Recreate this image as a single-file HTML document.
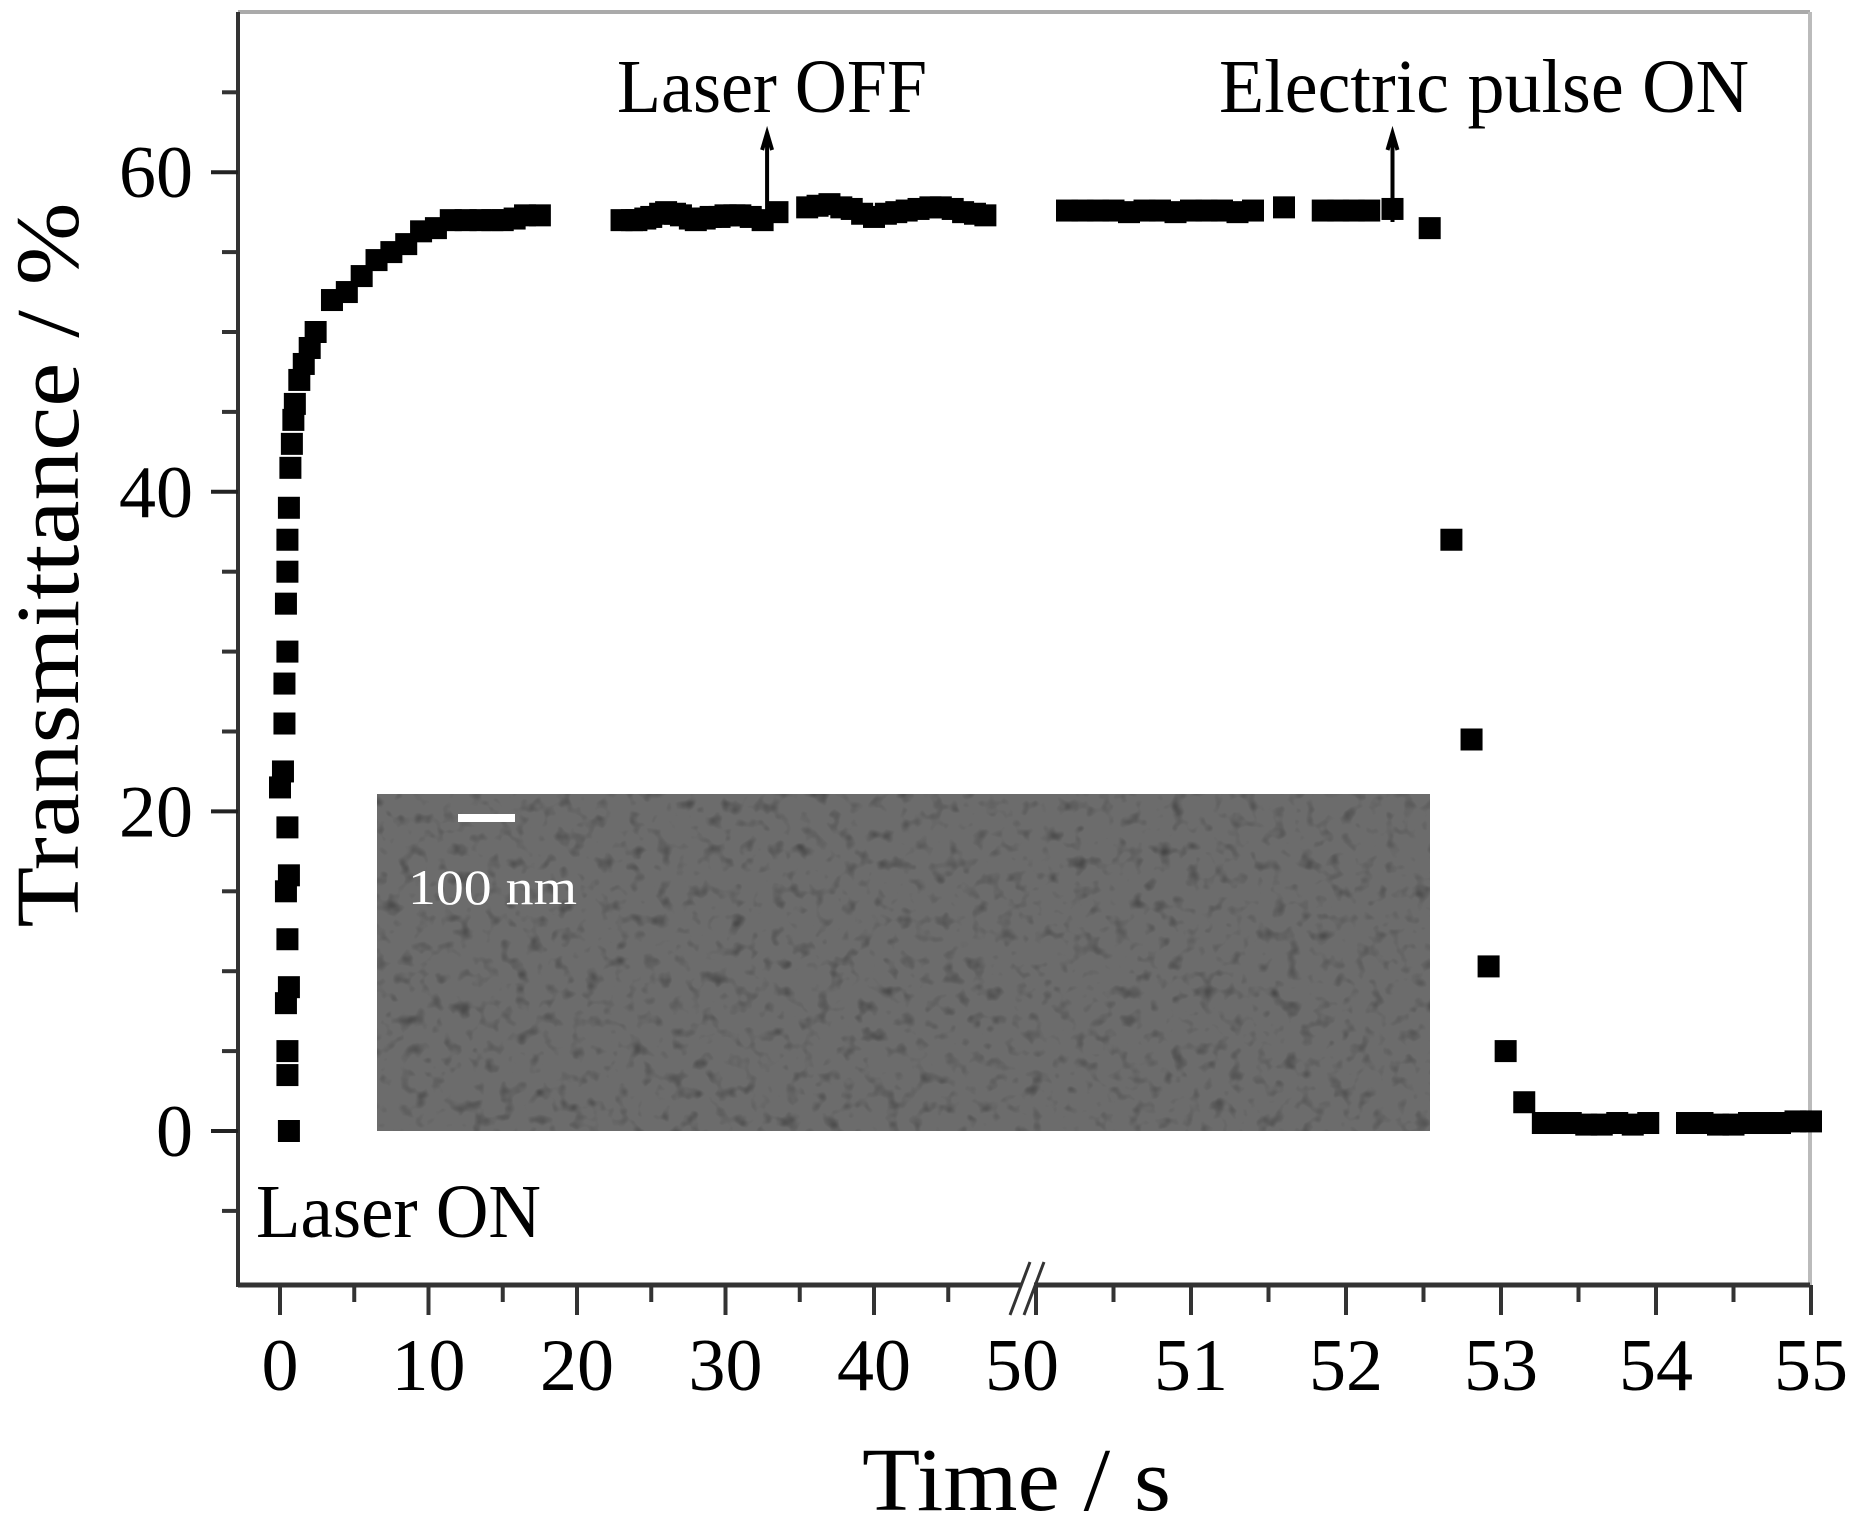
<!DOCTYPE html>
<html><head><meta charset="utf-8"><style>
html,body{margin:0;padding:0;background:#fff;}
svg{display:block;font-family:"Liberation Serif",serif;}
</style></head><body>
<svg id="chart" width="1855" height="1524" viewBox="0 0 1855 1524" xmlns="http://www.w3.org/2000/svg">
<defs>
<filter id="sem" x="0" y="0" width="100%" height="100%">
<feTurbulence type="fractalNoise" baseFrequency="0.07" numOctaves="2" seed="4"/>
<feColorMatrix type="matrix" values="0 0 0 0 0.3  0 0 0 0 0.3  0 0 0 0 0.3  1.1 1.1 1.1 0 -0.6"/>
</filter>
</defs>
<g>
<rect x="377" y="794" width="1053" height="337" fill="#444"/>
<rect x="377" y="794" width="1053" height="337" fill="#fff" filter="url(#sem)" opacity="0.5"/>
<rect x="458" y="814" width="57" height="8" fill="#fff"/>
<text x="408" y="904" font-size="50" fill="#fff" textLength="169" lengthAdjust="spacingAndGlyphs">100 nm</text>
</g>
<g id="axes"></g>
<g id="marks"></g>
<text x="617" y="112" font-size="76" textLength="310" lengthAdjust="spacingAndGlyphs">Laser OFF</text>
<text x="1219" y="112" font-size="76" textLength="530" lengthAdjust="spacingAndGlyphs">Electric pulse ON</text>
<text x="256" y="1237" font-size="76" textLength="285" lengthAdjust="spacingAndGlyphs">Laser ON</text>
<text transform="translate(78,565) rotate(-90)" text-anchor="middle" font-size="90" textLength="725" lengthAdjust="spacingAndGlyphs">Transmittance / %</text>
<text x="862" y="1510" font-size="90" textLength="309" lengthAdjust="spacingAndGlyphs">Time / s</text>
</svg>
<script>
const times = [0.6,0.5,0.5,0.4,0.6,0.5,0.4,0.6,0.5,0.0,0.2,0.3,0.3,0.5,0.4,0.5,0.5,0.6,0.7,0.8,0.9,1.0,1.3,1.6,2.0,2.4,3.5,4.5,5.5,6.5,7.5,8.5,9.5,10.5,11.5,12.5,13.5,14.3,15,15.8,16.5,17.5,
23,23.7,24,24.6,25,25.6,26,26.6,27,27.6,28,28.6,29,29.6,30,30.6,31,31.7,32.5,33.5,35.5,36.2,37,37.8,38.5,39.2,40,40.8,41.5,42.2,43,43.8,44.5,45.3,46,46.8,47.5,
50.2,50.3,50.4,50.5,50.6,50.7,50.8,50.9,51.0,51.1,51.2,51.3,51.4,51.6,51.85,51.95,52.05,52.15,52.3,52.54,52.68,52.81,52.92,53.03,53.15,53.27,53.35,53.45,53.55,53.65,53.75,53.85,53.95,54.2,54.3,54.4,54.5,54.6,54.7,54.8,54.9,55.0];
const values = [0,3.5,5,8,9,12,15,16,19,21.5,22.5,25.5,28,30,33,35,37,39,41.5,43,44.5,45.5,47,48,49,50,52,52.5,53.5,54.5,55,55.5,56.3,56.5,57,57,57,57,57,57.1,57.3,57.3,
57,57,57,57.1,57.2,57.4,57.5,57.4,57.3,57.1,57,57.1,57.2,57.2,57.3,57.3,57.3,57.2,57,57.5,57.8,57.9,58,57.8,57.7,57.4,57.2,57.4,57.5,57.6,57.7,57.8,57.8,57.7,57.5,57.4,57.3,
57.6,57.6,57.6,57.6,57.5,57.6,57.6,57.5,57.6,57.6,57.6,57.5,57.6,57.8,57.6,57.6,57.6,57.6,57.7,56.5,37,24.5,10.3,5,1.8,0.5,0.5,0.5,0.4,0.4,0.5,0.4,0.5,0.5,0.5,0.4,0.4,0.5,0.5,0.5,0.6,0.6];
const yTicks = [0,20,40,60];
const yMinor = [-5,5,10,15,25,30,35,45,50,55,65];
const xTicksA = [0,10,20,30,40];
const xMinorA = [5,15,25,35,45];
const xTicksB = [50,51,52,53,54,55];
const xMinorB = [50.5,51.5,52.5,53.5,54.5];
const arrowTimes = [32.8,52.3];

const NS='http://www.w3.org/2000/svg';
function X(t){return t<=49.9 ? 280+14.85*t : 1036+155*(t-50);}
function Y(v){return 1131-15.98*v;}
function mk(tag,attrs,parent){const e=document.createElementNS(NS,tag);for(const k in attrs)e.setAttribute(k,attrs[k]);parent.appendChild(e);return e;}
const axes=document.getElementById('axes'), marks=document.getElementById('marks');
const L=238,R=1810,T=12,B=1285;
let e;
e=mk('line',{x1:L,y1:T,x2:R,y2:T,stroke:'#aaa','stroke-width':4},axes);


e=mk('line',{x1:R,y1:T,x2:R,y2:B,stroke:'#bbb','stroke-width':4},axes);


e=mk('line',{x1:L,y1:T,x2:L,y2:B+2,stroke:'#333','stroke-width':4},axes);


e=mk('line',{x1:L,y1:B,x2:1022,y2:B,stroke:'#333','stroke-width':5},axes);


e=mk('line',{x1:1034,y1:B,x2:R,y2:B,stroke:'#333','stroke-width':5},axes);


e=mk('path',{d:'M1010 1315 L1030 1262 M1024 1315 L1044 1262',stroke:'#333','stroke-width':3,fill:'none'},axes);


yTicks.forEach(v=>{
 e=mk('line',{x1:211,y1:Y(v),x2:L,y2:Y(v),stroke:'#222','stroke-width':4},axes);
 
 
 e=mk('text',{x:193,y:Y(v)+25,'font-size':74,'text-anchor':'end'},axes);
 e.textContent=v;
 
 
});
yMinor.forEach(v=>{
 e=mk('line',{x1:222,y1:Y(v),x2:L,y2:Y(v),stroke:'#333','stroke-width':4},axes);
 
 
});
xTicksA.concat(xTicksB).forEach(t=>{
 e=mk('line',{x1:X(t),y1:B,x2:X(t),y2:1315,stroke:'#333','stroke-width':4},axes);
 
 
 e=mk('text',{x:X(t)+(t===50?-14:0),y:1390,'font-size':74,'text-anchor':'middle'},axes);
 e.textContent=t;
 
 
});
xMinorA.concat(xMinorB).forEach(t=>{
 e=mk('line',{x1:X(t),y1:B,x2:X(t),y2:1302,stroke:'#333','stroke-width':4},axes);
 
 
});
times.forEach((t,i)=>{
 e=mk('rect',{x:X(t)-11,y:Y(values[i])-11,width:22,height:22,fill:'#000'},marks);
 
 
});
arrowTimes.forEach(t=>{
 const x=X(t);
 e=mk('path',{d:`M${x} 222 L${x} 135 M${x-5} 150 L${x} 133 L${x+5} 150`,stroke:'#000','stroke-width':4,fill:'none'},marks);
 
 
});
</script>
</body></html>
